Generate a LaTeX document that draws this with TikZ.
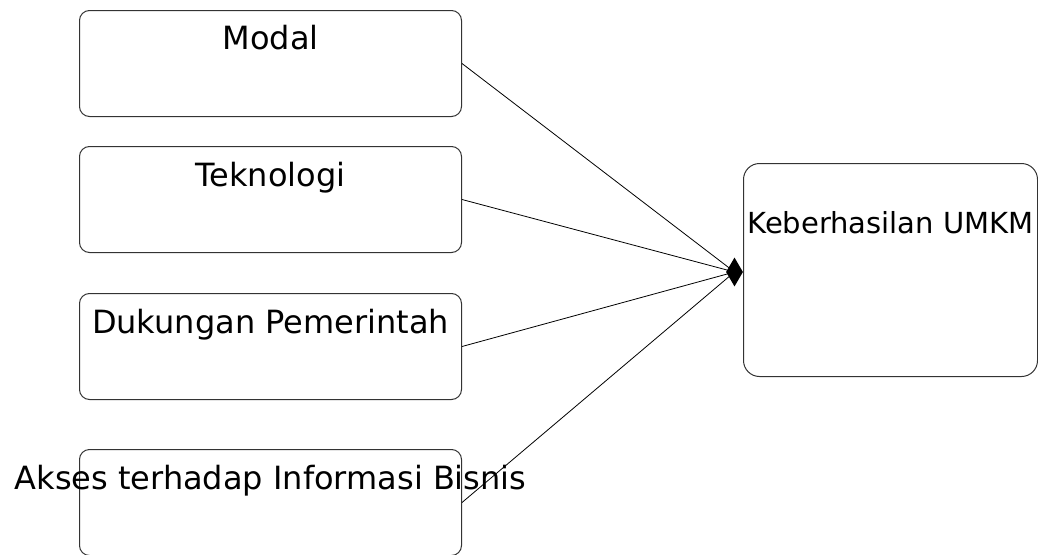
\documentclass[tikz,border=0pt]{standalone}
\usepackage{fontspec}
\setmainfont{DejaVu Sans}
\usetikzlibrary{
  shapes.geometric,
  positioning
}

\begin{document}
\begin{tikzpicture}[
      x=1pt,y=-1pt,
      factor/.style={
         rectangle,
         rounded corners=10pt,
         draw=black!80,
         line width=1pt,
         anchor=north west,
         minimum width=382pt,
         minimum height=106pt,
         inner sep=0pt
      },
      result/.style={
         factor,
         rounded corners=16pt,
         minimum width=294pt,
         minimum height=213pt
      },
      caption/.style={
         anchor=base,
         yshift=#1,
         font=\fontsize{32}{38}\selectfont,
         inner sep=0pt
      },
      joint/.style={
         diamond,
         fill=black,
         inner sep=0pt,
         minimum width=17pt,
         minimum height=29pt
      },
      link/.style={
         line width=0.8pt,
         draw=black
      }
    ]
    \useasboundingbox (0,0) rectangle (1038,554);
    % independent variables
    \node (modal) [factor, label={[caption=-39pt]north:Modal}] at (79,10) {};
    \node (tekno) [factor, label={[caption=-40pt]north:Teknologi}] at (79,146) {};
    \node (dukung) [factor, label={[caption=-40pt]north:Dukungan Pemerintah}] at (79,293) {};
    \node (akses) [factor, label={[caption=-40pt]north:Akses terhadap Informasi Bisnis}] at (79,449) {};
    % dependent variable
    \node (hasil) [result, label={[caption=-70pt, font=\fontsize{29}{34}\selectfont]north:Keberhasilan UMKM}] at (743,163) {};
    \coordinate [left=8.5pt of hasil.west, yshift=-2pt] (meet);

    \draw [link] (modal.east) -- (meet);
    \draw [link] (tekno.east) -- (meet);
    \draw [link] (dukung.east) -- (meet);
    \draw [link] (akses.east) -- (meet);
    \node (tip) [joint] at (meet) {};
\end{tikzpicture}
\end{document}
